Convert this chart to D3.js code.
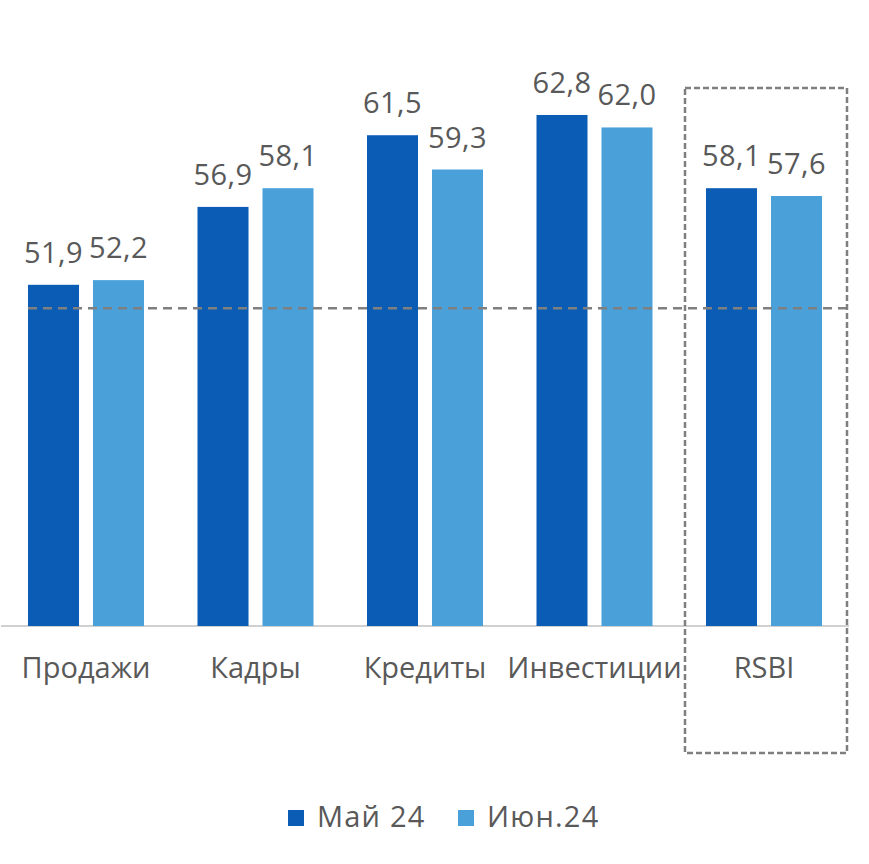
<!DOCTYPE html>
<html><head><meta charset="utf-8">
<script src="https://cdn.jsdelivr.net/npm/d3@7"></script>
<style>body{margin:0;background:#fff}svg{display:block}text{font-family:"Open Sans","Noto Sans",sans-serif;fill:#595959}</style>
</head><body><svg id="c" width="869" height="864"></svg>
<script>
const categories = ["Продажи","Кадры","Кредиты","Инвестиции","RSBI"];
const seriesNames = ["Май 24","Июн.24"];
const may24 = [51.9,56.9,61.5,62.8,58.1];
const jun24 = [52.2,58.1,59.3,62.0,57.6];
const refLine = 50.4;
const colors = ["#0b5cb5","#4aa1da"];

const svg = d3.select("#c");
const fmt = v => d3.format(".1f")(v).replace(".", ",");
const y = d3.scaleLinear().domain([30, 65]).range([626, 80.7]);
const x0 = d3.scaleBand().domain(categories).range([1.25, 848.75]).paddingInner(0.3156).paddingOuter(0.1578);
const x1 = d3.scaleBand().domain(seriesNames).range([0, x0.bandwidth()]).paddingInner(0.215);
const data = categories.map((c,i)=>({c, vals:[may24[i], jun24[i]]}));

// baseline
svg.append("line").attr("x1",1).attr("x2",849).attr("y1",y(30)).attr("y2",y(30))
  .attr("stroke","#d0d0d0").attr("stroke-width",2);

const g = svg.selectAll("g.cat").data(data).join("g").attr("class","cat")
  .attr("transform", d=>`translate(${x0(d.c)},0)`);
g.selectAll("rect").data(d=>d.vals.map((v,j)=>({v,s:seriesNames[j],j}))).join("rect")
  .attr("x", d=>x1(d.s)).attr("width", x1.bandwidth())
  .attr("y", d=>y(d.v)).attr("height", d=>y(30)-y(d.v))
  .attr("fill", d=>colors[d.j]);
g.selectAll("text.val").data(d=>d.vals.map((v,j)=>({v,s:seriesNames[j]}))).join("text")
  .attr("class","val").attr("x", d=>x1(d.s)+x1.bandwidth()/2).attr("y", d=>y(d.v)-22)
  .attr("text-anchor","middle").attr("font-size",29).attr("letter-spacing",0.4).text(d=>fmt(d.v));

// reference dashed line
svg.append("line").attr("x1",28).attr("x2",849).attr("y1",y(refLine)).attr("y2",y(refLine))
  .attr("stroke","#7f7f7f").attr("stroke-width",2.5).attr("stroke-dasharray","9,6");

// category axis labels
const xAxis = d3.axisBottom(x0).tickSize(0).tickPadding(0);
const ax = svg.append("g").attr("transform",`translate(0,${y(30)})`).call(xAxis);
ax.select(".domain").remove();
ax.selectAll("text").attr("dy",0).attr("y",52).attr("font-size",29).style("fill","#595959")
  .style("font-family",'"Open Sans","Noto Sans",sans-serif');

// RSBI box
svg.append("rect").attr("x",685).attr("y",88).attr("width",162).attr("height",665)
  .attr("fill","none").attr("stroke","#7f7f7f").attr("stroke-width",2.5).attr("stroke-dasharray","6,3");

// legend
const leg = svg.append("g");
const legX = [288, 458];
seriesNames.forEach((s,i)=>{
  leg.append("rect").attr("x",legX[i]).attr("y",810).attr("width",16).attr("height",16).attr("fill",colors[i]);
  leg.append("text").attr("x",legX[i]+29).attr("y",827).attr("font-size",29).attr("letter-spacing",1.2).text(s);
});
</script></body></html>
